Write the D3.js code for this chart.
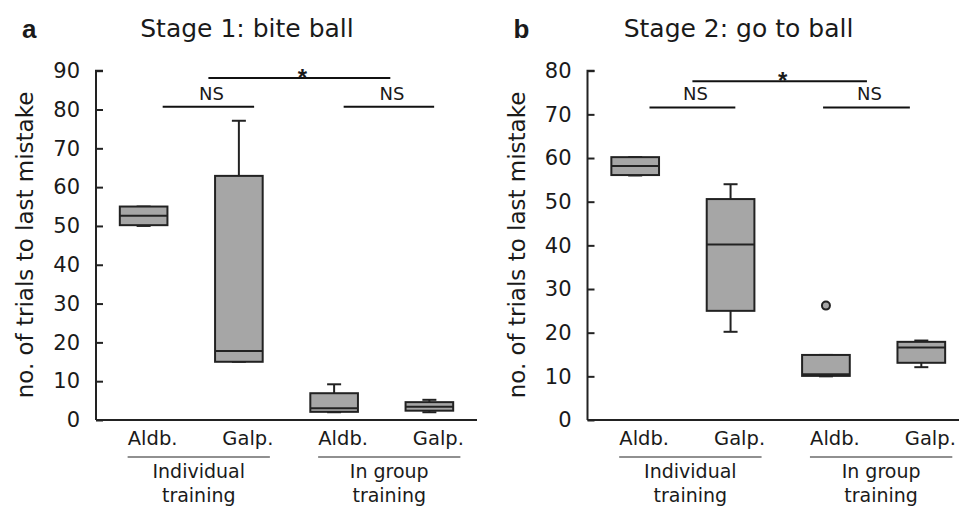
<!DOCTYPE html>
<html>
<head>
<meta charset="utf-8">
<script src="https://cdn.jsdelivr.net/npm/d3@7"></script>
<style>
  body { margin: 0; background: #fff; }
  text { font-family: "DejaVu Sans", sans-serif; fill: #1a1a1a; }
</style>
</head>
<body>
<svg id="chart" width="959" height="506"></svg>
<script>
// categories
var groups = ["Aldb.", "Galp.", "Aldb.", "Galp."];
var trainingLabels = [["Individual", "training"], ["In group", "training"]];

// stage 1: bite ball (min, q1, median, q3, max)
var stage1Min    = [50, 15, 2, 2];
var stage1Q1     = [50.2, 15, 2.1, 2.4];
var stage1Median = [52.6, 17.8, 3, 3.4];
var stage1Q3     = [55, 62.9, 6.9, 4.6];
var stage1Max    = [55, 77.1, 9.2, 5.2];
var stage1Outliers = [[], [], [], []];
var stage1Ticks = [0, 10, 20, 30, 40, 50, 60, 70, 80, 90];

// stage 2: go to ball
var stage2Min    = [56, 20.2, 10, 12.1];
var stage2Q1     = [56.1, 25, 10.1, 13.1];
var stage2Median = [58.2, 40.2, 10.5, 16.6];
var stage2Q3     = [60.2, 50.6, 14.9, 17.9];
var stage2Max    = [60.2, 54, 14.9, 18.2];
var stage2Outliers = [[], [], [26.2], []];
var stage2Ticks = [0, 10, 20, 30, 40, 50, 60, 70, 80];

// significance bars: [from index, to index, level, label]
var stage1Sig = [[0.68, 2.59, 88.1, "*"], [0.2, 1.16, 80.7, "NS"], [2.1, 3.05, 80.7, "NS"]];
var stage2Sig = [[0.6, 2.43, 77.6, "*"], [0.15, 1.05, 71.6, "NS"], [1.97, 2.88, 71.6, "NS"]];

var svg = d3.select("#chart");
var boxFill = "#a6a6a6", ink = "#222";

function drawPanel(opt){
  var g = svg.append("g");
  var x = d3.scaleBand().domain(d3.range(groups.length)).range([opt.left, opt.right]).padding(0);
  var y = d3.scaleLinear().domain([0, opt.max]).range([420, 70.7]);
  var bw = x.bandwidth();
  var cx = function(i){ return x(i) + bw/2; };
  var xi = function(v){ return opt.left + (v + 0.5)*bw; };

  // panel letter & title
  g.append("text").attr("x", opt.left - 74).attr("y", 38)
    .style("font-family", "'Liberation Sans', Arial, sans-serif")
    .style("font-weight", "bold").style("font-size", "26px").text(opt.letter);
  g.append("text").attr("x", opt.left + 151).attr("y", 37)
    .attr("text-anchor", "middle").style("font-size", "25px").text(opt.title);

  // y axis
  var yAxis = d3.axisLeft(y).tickValues(opt.ticks).tickSize(-7).tickPadding(16);
  var gy = g.append("g").attr("transform", "translate(" + opt.left + ",0)").call(yAxis);
  gy.select(".domain").attr("d", "M7," + y(opt.max) + "H0V" + y(0))
    .attr("stroke", ink).attr("stroke-width", 2);
  gy.selectAll(".tick line").attr("stroke", ink).attr("stroke-width", 2);
  gy.selectAll(".tick text").style("font-size", "21px")
    .style("font-family", "'DejaVu Sans', sans-serif").attr("fill", "#1a1a1a");

  // x axis line
  g.append("line").attr("x1", opt.left).attr("x2", opt.right)
    .attr("y1", y(0)).attr("y2", y(0)).attr("stroke", ink).attr("stroke-width", 2);

  g.append("text").attr("transform", "translate(" + (opt.left - 63) + "," + 245 + ") rotate(-90)")
    .attr("text-anchor", "middle").style("font-size", "23px").text("no. of trials to last mistake");

  // boxes
  var boxW = bw*0.5, capW = 14;
  var box = g.selectAll(".box").data(groups).enter().append("g").attr("class", "box");
  box.append("line").attr("x1", function(d,i){ return cx(i); }).attr("x2", function(d,i){ return cx(i); })
    .attr("y1", function(d,i){ return y(opt.q3[i]); }).attr("y2", function(d,i){ return y(opt.hi[i]); })
    .attr("stroke", ink).attr("stroke-width", 2);
  box.append("line").attr("x1", function(d,i){ return cx(i); }).attr("x2", function(d,i){ return cx(i); })
    .attr("y1", function(d,i){ return y(opt.q1[i]); }).attr("y2", function(d,i){ return y(opt.lo[i]); })
    .attr("stroke", ink).attr("stroke-width", 2);
  box.append("line").attr("x1", function(d,i){ return cx(i) - capW/2; }).attr("x2", function(d,i){ return cx(i) + capW/2; })
    .attr("y1", function(d,i){ return y(opt.hi[i]); }).attr("y2", function(d,i){ return y(opt.hi[i]); })
    .attr("stroke", ink).attr("stroke-width", 2);
  box.append("line").attr("x1", function(d,i){ return cx(i) - capW/2; }).attr("x2", function(d,i){ return cx(i) + capW/2; })
    .attr("y1", function(d,i){ return y(opt.lo[i]); }).attr("y2", function(d,i){ return y(opt.lo[i]); })
    .attr("stroke", ink).attr("stroke-width", 2);
  box.append("rect").attr("x", function(d,i){ return cx(i) - boxW/2; }).attr("width", boxW)
    .attr("y", function(d,i){ return y(opt.q3[i]); })
    .attr("height", function(d,i){ return y(opt.q1[i]) - y(opt.q3[i]); })
    .attr("fill", boxFill).attr("stroke", ink).attr("stroke-width", 2);
  box.append("line").attr("x1", function(d,i){ return cx(i) - boxW/2; }).attr("x2", function(d,i){ return cx(i) + boxW/2; })
    .attr("y1", function(d,i){ return y(opt.med[i]); }).attr("y2", function(d,i){ return y(opt.med[i]); })
    .attr("stroke", ink).attr("stroke-width", 2);
  box.each(function(d,i){
    d3.select(this).selectAll("circle").data(opt.out[i]).enter().append("circle")
      .attr("cx", cx(i)).attr("cy", function(v){ return y(v); }).attr("r", 4)
      .attr("fill", boxFill).attr("stroke", ink).attr("stroke-width", 2);
  });

  // category labels
  g.selectAll(".cat").data(groups).enter().append("text").attr("class", "cat")
    .attr("x", function(d,i){ return cx(i) + 9; }).attr("y", 445)
    .attr("text-anchor", "middle").style("font-size", "19.5px").text(function(d){ return d; });

  // training group labels
  trainingLabels.forEach(function(lab, k){
    var x1 = cx(2*k) - 16, x2 = cx(2*k + 1) + 31;
    g.append("line").attr("x1", x1).attr("x2", x2).attr("y1", 457).attr("y2", 457)
      .attr("stroke", ink).attr("stroke-width", 1.2);
    g.append("text").attr("x", (x1 + x2)/2).attr("y", 478).attr("text-anchor", "middle")
      .style("font-size", "19px").text(lab[0]);
    g.append("text").attr("x", (x1 + x2)/2).attr("y", 502).attr("text-anchor", "middle")
      .style("font-size", "19px").text(lab[1]);
  });

  // significance bars
  opt.sig.forEach(function(s){
    g.append("line").attr("x1", xi(s[0])).attr("x2", xi(s[1]))
      .attr("y1", y(s[2])).attr("y2", y(s[2])).attr("stroke", "#111").attr("stroke-width", 2);
    var star = s[3] === "*";
    g.append("text").attr("x", (xi(s[0]) + xi(s[1]))/2 + 3).attr("y", star ? y(s[2]) + 8 : y(s[2]) - 7)
      .attr("text-anchor", "middle").style("font-size", star ? "24px" : "18px")
      .style("font-family", star ? "'Liberation Sans', Arial, sans-serif" : null)
      .style("font-weight", star ? "bold" : "normal").text(s[3]);
  });
}

drawPanel({left: 96, right: 477, max: 90, ticks: stage1Ticks, letter: "a", title: "Stage 1: bite ball",
  lo: stage1Min, q1: stage1Q1, med: stage1Median, q3: stage1Q3, hi: stage1Max, out: stage1Outliers, sig: stage1Sig});
drawPanel({left: 587.5, right: 969, max: 80, ticks: stage2Ticks, letter: "b", title: "Stage 2: go to ball",
  lo: stage2Min, q1: stage2Q1, med: stage2Median, q3: stage2Q3, hi: stage2Max, out: stage2Outliers, sig: stage2Sig});
</script>
</body>
</html>
